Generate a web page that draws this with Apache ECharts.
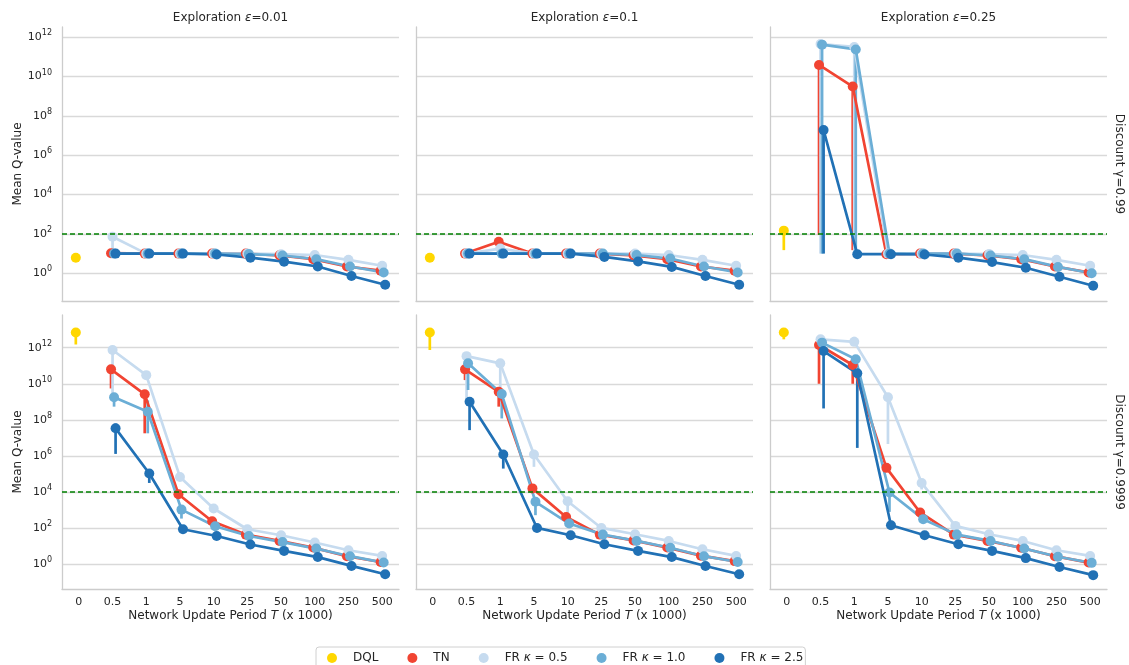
<!DOCTYPE html>
<html>
<head>
<meta charset="utf-8">
<script src="https://cdn.jsdelivr.net/npm/echarts@6/dist/echarts.min.js"></script>
<style>html,body{margin:0;padding:0;background:#fff}#chart{width:1129px;height:665px}</style>
</head>
<body>
<div id="chart"></div>
<script>
// categories / labels
var periods = ['0', '0.5', '1', '5', '10', '25', '50', '100', '250', '500'];
var methods = ['DQL', 'TN', 'FR κ = 0.5', 'FR κ = 1.0', 'FR κ = 2.5'];
var colors = ['#ffd700', '#f14432', '#c6dbef', '#6baed6', '#2171b5'];
var epsLabels = ['0.01', '0.1', '0.25'];
var gammaLabels = ['0.99', '0.9999'];
var targetQ = [100, 10000];
var yTicks = [0, 2, 4, 6, 8, 10, 12];

// mean Q-values, gamma = 0.99 (DQL at T=0, others at T=0.5..500)
var dql_g99 = [6.2, 6.2, 147];
var tn_g99_e001 = [10.5, 10, 10, 10, 10, 8.2, 5.2, 2.2, 1.35];
var fr05_g99_e001 = [72, 10, 10, 10, 10, 9.3, 8.5, 4.8, 2.4];
var fr10_g99_e001 = [10, 10, 10, 10, 9.5, 8.0, 5.2, 2.2, 1.1];
var fr25_g99_e001 = [10, 10, 10, 9, 6.2, 3.9, 2.2, 0.73, 0.26];

var tn_g99_e01 = [10, 40, 10, 10, 10, 8.2, 5.2, 2.2, 1.35];
var fr05_g99_e01 = [10, 18, 10, 10, 10, 10, 8.5, 4.8, 2.4];
var fr10_g99_e01 = [10, 10, 10, 10, 10, 8.5, 5.6, 2.2, 1.1];
var fr25_g99_e01 = [10, 10, 10, 10, 6.8, 4, 2.1, 0.73, 0.26];

var tn_g99_e025 = [3.9e10, 3.1e9, 9.3, 10, 10, 8.2, 5.2, 2.2, 1.1];
var fr05_g99_e025 = [4.5e11, 3.2e11, 10, 10, 10, 9.5, 8.5, 4.8, 2.4];
var fr10_g99_e025 = [4.2e11, 2.4e11, 10, 10, 10, 8, 5.2, 2.1, 1.0];
var fr25_g99_e025 = [1.9e7, 9.3, 9.3, 9, 6.2, 3.7, 1.9, 0.67, 0.23];

// mean Q-values, gamma = 0.9999
var dql_g9999 = [7e12, 7e12, 7e12];
var tn_g9999_e001 = [6.3e10, 2.6e9, 7.6e3, 240, 44, 19.6, 8.4, 2.8, 1.34];
var fr05_g9999_e001 = [7.4e11, 3e10, 6.9e4, 1230, 87, 40.6, 16, 6, 2.9];
var fr10_g9999_e001 = [1.8e9, 2.8e8, 1070, 127, 37, 17, 7.4, 2.8, 1.24];
var fr25_g9999_e001 = [3.4e7, 1.07e5, 87, 37, 12.4, 5.5, 2.5, 0.81, 0.28];

var tn_g9999_e01 = [6.3e10, 3.6e9, 1.6e4, 420, 44, 21, 8.4, 3, 1.5];
var fr05_g9999_e01 = [3.4e11, 1.35e11, 1.2e6, 3100, 103, 46, 19.6, 6.8, 2.9];
var fr10_g9999_e01 = [1.35e11, 2.7e9, 2.9e3, 180, 44, 19.6, 8.2, 2.8, 1.34];
var fr25_g9999_e01 = [1e9, 1.2e6, 103, 40.6, 12.9, 5.5, 2.5, 0.8, 0.28];

var tn_g9999_e025 = [1.4e12, 1.1e11, 2.2e5, 740, 44, 19.6, 8.2, 2.8, 1.24];
var fr05_g9999_e025 = [2.9e12, 2.1e12, 1.8e9, 3.2e4, 134, 46, 19.6, 6, 2.9];
var fr10_g9999_e025 = [1.9e12, 2.3e11, 9.5e3, 316, 44, 19.6, 7.4, 2.6, 1.2];
var fr25_g9999_e025 = [6.5e11, 3.8e10, 146, 40.6, 12.9, 5.5, 2.2, 0.71, 0.25];

// error bars: [method, period index, low, high]
var err_g99_e001 = [[2, 1, 10, 72]];
var err_g99_e01 = [];
var err_g99_e025 = [[0, 0, 15, 250], [1, 1, 90, 3.9e10], [1, 2, 15, 3.1e9], [2, 1, 10, 4.5e11], [2, 2, 9, 3.2e11],
  [3, 1, 10, 4.2e11], [3, 2, 9, 2.4e11], [4, 1, 10, 1.9e7]];
var err_g9999_e001 = [[0, 0, 1.5e12, 1.2e13], [1, 1, 5.5e9, 6.3e10], [1, 2, 1.8e7, 4.5e9], [2, 1, 3e9, 7.4e11],
  [3, 1, 5.4e8, 1.8e9], [3, 2, 1.8e7, 1.2e9], [3, 3, 340, 1070], [4, 1, 1.3e6, 6.3e7], [4, 2, 3.2e4, 1.07e5]];
var err_g9999_e01 = [[0, 0, 7.4e11, 1.2e13], [1, 1, 1.6e10, 6.3e10], [1, 2, 5.4e8, 3.6e9], [2, 1, 1.3e9, 3.4e11],
  [2, 2, 4.5e9, 1.35e11], [2, 3, 2.5e5, 1.2e6], [2, 4, 630, 3100], [3, 1, 4.5e9, 1.35e11], [3, 2, 1.2e8, 2.7e9],
  [3, 3, 525, 2.9e3], [4, 1, 2.7e7, 1e9], [4, 2, 2e5, 1.2e6]];
var err_g9999_e025 = [[0, 0, 2.9e12, 7e12], [1, 1, 1e10, 1.4e12], [1, 2, 1e10, 1.1e11], [2, 2, 2.1e12, 4e12],
  [2, 3, 4.6e6, 1.8e9], [2, 4, 1.4e4, 3.2e4], [3, 3, 800, 9.5e3], [4, 1, 4.3e8, 6.5e11], [4, 2, 2.8e6, 3.8e10]];

var panels = [
  [[dql_g99[0]], tn_g99_e001, fr05_g99_e001, fr10_g99_e001, fr25_g99_e001],
  [[dql_g99[1]], tn_g99_e01, fr05_g99_e01, fr10_g99_e01, fr25_g99_e01],
  [[dql_g99[2]], tn_g99_e025, fr05_g99_e025, fr10_g99_e025, fr25_g99_e025],
  [[dql_g9999[0]], tn_g9999_e001, fr05_g9999_e001, fr10_g9999_e001, fr25_g9999_e001],
  [[dql_g9999[1]], tn_g9999_e01, fr05_g9999_e01, fr10_g9999_e01, fr25_g9999_e01],
  [[dql_g9999[2]], tn_g9999_e025, fr05_g9999_e025, fr10_g9999_e025, fr25_g9999_e025]
];
var panelErrs = [err_g99_e001, err_g99_e01, err_g99_e025, err_g9999_e001, err_g9999_e01, err_g9999_e025];

var FONT = 'DejaVu Sans';
var TXT = '#262626';
var lefts = [62, 416, 770];
var tops = [27, 315];
var yMin = [-1.41, -1.37];
var yMax = [12.52, 13.81];
var dodge = [-0.09, -0.045, 0, 0.045, 0.09];

var myChart = echarts.init(document.getElementById('chart'));

var grids = [], xAxes = [], yAxes = [], series = [];

// vertical error bar from low to high
function renderErr(params, api) {
  var p1 = api.coord([api.value(0), api.value(1)]);
  var p2 = api.coord([api.value(0), api.value(2)]);
  return {
    type: 'line',
    shape: { x1: p1[0], y1: p1[1], x2: p2[0], y2: p2[1] },
    style: { stroke: api.visual('color'), lineWidth: 2.7 }
  };
}

for (var p = 0; p < 6; p++) {
  var row = Math.floor(p / 3), col = p % 3;
  grids.push({ left: lefts[col], top: tops[row], width: 337, height: 274 });
  xAxes.push({
    type: 'category', gridIndex: p, data: periods, boundaryGap: true, position: 'bottom',
    axisLine: { onZero: false, lineStyle: { color: '#cccccc', width: 1.3 } },
    axisTick: { show: false },
    axisLabel: { show: row === 1, interval: 0, fontFamily: FONT, fontSize: 11, color: TXT, margin: 8 },
    splitLine: { show: false },
    name: row === 1 ? 'Network Update Period {i|T} (x 1000)' : '',
    nameLocation: 'middle', nameGap: 21,
    nameTextStyle: { fontFamily: FONT, fontSize: 12, color: TXT,
      rich: { i: { fontFamily: FONT, fontSize: 12, color: TXT, fontStyle: 'italic' } } }
  });
  xAxes.push({ type: 'value', gridIndex: p, min: -0.5, max: 9.5, show: false,
    axisLine: { onZero: false } });
  yAxes.push({
    type: 'value', gridIndex: p, min: yMin[row], max: yMax[row], splitNumber: 7, position: 'left',
    axisLine: { show: true, onZero: false, lineStyle: { color: '#cccccc', width: 1.3 } },
    axisTick: { show: false },
    axisLabel: {
      show: col === 0, showMinLabel: false, showMaxLabel: false,
      fontFamily: FONT, fontSize: 11, color: TXT, margin: 10, lineHeight: 16,
      formatter: function (v) {
        return yTicks.indexOf(v) >= 0 ? '10{s|' + v + '}' : '';
      },
      rich: { s: { fontFamily: FONT, fontSize: 8, color: TXT, verticalAlign: 'top', lineHeight: 10 } }
    },
    splitLine: { show: true, showMinLine: false, showMaxLine: false, lineStyle: { color: '#d9d9d9', width: 1.3 } },
    name: col === 0 ? 'Mean Q-value' : '',
    nameLocation: 'middle', nameGap: 38,
    nameTextStyle: { fontFamily: FONT, fontSize: 12, color: TXT }
  });

  for (var m = 0; m < 5; m++) {
    var vals = panels[p][m];
    var start = m === 0 ? 0 : 1;
    var pts = vals.map(function (v, i) { return [start + i + dodge[m], Math.log10(v)]; });
    var s = {
      type: 'line', name: methods[m], xAxisIndex: 2 * p + 1, yAxisIndex: p,
      data: pts, symbol: 'circle', symbolSize: 10, showSymbol: true,
      lineStyle: { width: 2.7, color: colors[m] }, itemStyle: { color: colors[m] },
      emphasis: { disabled: true }, silent: true, z: 3
    };
    if (m === 0) {
      s.markLine = {
        silent: true, symbol: 'none', label: { show: false }, animation: false,
        lineStyle: { color: '#008000', type: [5, 3], width: 1.5 },
        data: [{ yAxis: Math.log10(targetQ[row]) }]
      };
    }
    series.push(s);
    var errs = panelErrs[p].filter(function (e) { return e[0] === m; }).map(function (e) {
      return [e[1] + dodge[m], Math.log10(e[2]), Math.log10(e[3])];
    });
    if (errs.length) {
      series.push({
        type: 'custom', name: methods[m], xAxisIndex: 2 * p + 1, yAxisIndex: p,
        data: errs, renderItem: renderErr, encode: { x: 0, y: [1, 2] },
        itemStyle: { color: colors[m] }, silent: true, z: 3
      });
    }
  }
}

var graphics = [];
for (var c = 0; c < 3; c++) {
  graphics.push({
    type: 'text', x: lefts[c] + 168.5, y: 18,
    style: {
      text: 'Exploration {i|ε}=' + epsLabels[c], fontFamily: FONT, fontSize: 12, fill: TXT,
      textAlign: 'center', textVerticalAlign: 'middle',
      rich: { i: { fontFamily: FONT, fontSize: 12, fill: TXT, fontStyle: 'italic' } }
    }
  });
}
for (var r = 0; r < 2; r++) {
  graphics.push({
    type: 'text', x: 1119, y: tops[r] + 137, rotation: -Math.PI / 2,
    style: {
      text: 'Discount γ=' + gammaLabels[r], fontFamily: FONT, fontSize: 12, fill: TXT,
      textAlign: 'center', textVerticalAlign: 'middle'
    }
  });
}

var option = {
  animation: false,
  backgroundColor: '#ffffff',
  grid: grids,
  xAxis: xAxes,
  yAxis: yAxes,
  legend: {
    data: methods.map(function (n) { return { name: n, icon: 'circle' }; }),
    left: 316, top: 647, orient: 'horizontal',
    itemWidth: 32, itemHeight: 10, itemGap: 29,
    padding: [5, 2, 5, 11],
    borderColor: '#d0d0d0', borderWidth: 1, borderRadius: 3, backgroundColor: '#ffffff',
    formatter: function (name) { return name.replace('κ', '{i|κ}'); },
    textStyle: {
      fontFamily: FONT, fontSize: 12, color: TXT,
      rich: { i: { fontFamily: FONT, fontSize: 12, color: TXT, fontStyle: 'italic' } }
    },
    selectedMode: false
  },
  graphic: graphics,
  series: series
};

myChart.setOption(option);
</script>
</body>
</html>
